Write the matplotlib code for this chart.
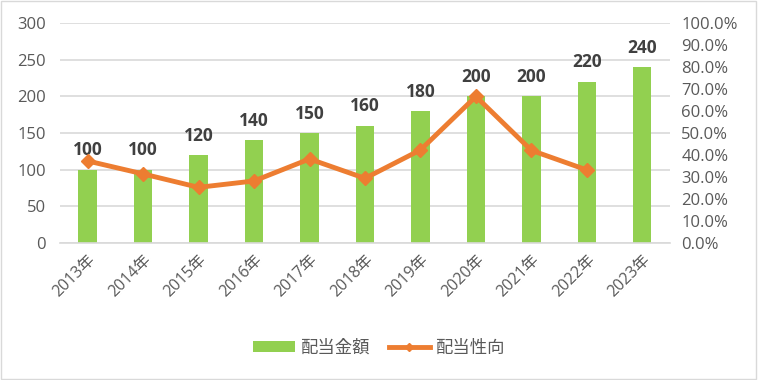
import matplotlib
matplotlib.use("Agg")
import matplotlib.pyplot as plt
from matplotlib.patches import Rectangle, Patch
from matplotlib.lines import Line2D

plt.rcParams['font.family'] = ['Open Sans', 'Noto Sans CJK JP', 'DejaVu Sans']

years = ["2013年", "2014年", "2015年", "2016年", "2017年", "2018年",
         "2019年", "2020年", "2021年", "2022年", "2023年"]
dividend = [100, 100, 120, 140, 150, 160, 180, 200, 200, 220, 240]
payout = [37.3, 31.4, 25.3, 28.2, 38.2, 29.4, 42.3, 66.6, 42.1, 33.2, None]

left_ticks = [0, 50, 100, 150, 200, 250, 300]
right_ticks = [0, 10, 20, 30, 40, 50, 60, 70, 80, 90, 100]

green = "#92d050"
orange = "#ed7d31"
grey_text = "#595959"

fig = plt.figure(figsize=(7.58, 3.80), dpi=100)
ax = fig.add_axes([0.079, 0.3605, 0.805, 0.579])
x = list(range(len(years)))
ax.bar(x, dividend, width=0.33, color=green, zorder=2)
for xi, v in zip(x, dividend):
    ax.annotate(str(v), (xi, v), xytext=(0, 7.5), textcoords='offset points',
                ha='center', va='bottom', fontsize=12.5, fontweight='bold',
                color="#404040", zorder=5)
ax.set_xlim(-0.5, len(years) - 0.5)
ax.set_ylim(0, 300)
ax.set_yticks(left_ticks)
ax.yaxis.grid(True, color="#d9d9d9", linewidth=1.2, zorder=0)
ax.set_axisbelow(True)
for s in ['top', 'right', 'left']:
    ax.spines[s].set_visible(False)
ax.spines['bottom'].set_color("#d9d9d9")
ax.spines['bottom'].set_linewidth(1.2)
ax.tick_params(axis='y', length=0, labelsize=12, labelcolor=grey_text, pad=10)
ax.set_xticks(x)
ax.set_xticklabels(years, rotation=45, ha='right', rotation_mode='anchor',
                   fontsize=11.5, color=grey_text)
ax.tick_params(axis='x', length=0, pad=6)

ax2 = ax.twinx()
px = [xi for xi, p in zip(x, payout) if p is not None]
py = [p for p in payout if p is not None]
ax2.plot(px, py, color=orange, linewidth=3.5, marker='D', markersize=7, zorder=4)
ax2.set_ylim(0, 100)
ax2.set_yticks(right_ticks)
ax2.set_yticklabels([f"{t:.1f}%" for t in right_ticks])
ax2.tick_params(axis='y', length=0, labelsize=12, labelcolor=grey_text, pad=8)
for s in ax2.spines.values():
    s.set_visible(False)

handles = [Patch(facecolor=green, edgecolor='none'),
           Line2D([], [], color=orange, linewidth=3.5, marker='D', markersize=4)]
fig.legend(handles, ["配当金額", "配当性向"], loc='center', bbox_to_anchor=(0.5, 0.083),
           ncol=2, frameon=False, fontsize=12.5, labelcolor=grey_text,
           handlelength=2.4, handleheight=0.6, columnspacing=1.1, handletextpad=0.3)

fig.patches.append(Rectangle((0.001, 0.002), 0.997, 0.995, transform=fig.transFigure,
                             fill=False, edgecolor="#d9d9d9", linewidth=1))

fig.savefig("out.png", dpi=100, facecolor='white')
